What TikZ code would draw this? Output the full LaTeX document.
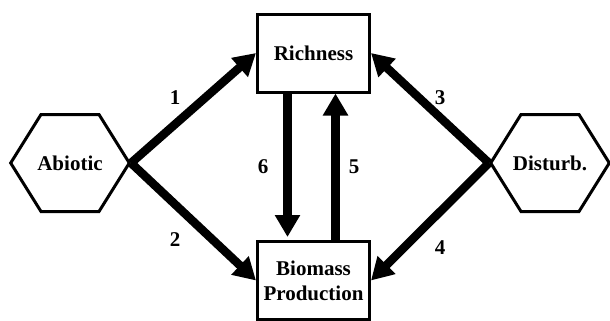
\documentclass[tikz,border=0pt]{standalone}
\usepackage{fontspec}
\setmainfont{Liberation Serif}
\usetikzlibrary{arrows.meta,shapes.symbols}
\tikzset{
	box/.style={draw, line width=1.5pt, minimum width=56pt, minimum height=39pt, inner sep=0pt, align=center, font=\fontsize{10.5}{12.5}\selectfont\bfseries},
	hexa/.style={draw, signal, signal to=east and west, signal pointer angle=116, minimum height=48.5pt, line width=1.5pt, inner sep=0pt, font=\fontsize{10.5}{12.5}\selectfont\bfseries},
	flow/.style={line width=4.25pt, -{Triangle[length=11pt,width=12pt]}},
	num/.style={inner sep=0pt, font=\fontsize{10.5}{12.5}\selectfont\bfseries}
}
\newcommand{\hexbody}[1]{\makebox[29pt]{#1}}

\begin{document}
\begin{tikzpicture}[x=0.5pt, y=-0.5pt]
		%%%%% START %%%%%
		\useasboundingbox (0, 0) rectangle (610, 321);
		
		\node[box] (rich) at (313.5, 53) {Richness};
		\node[box] (bio) at (313.5, 280.5) {Biomass\\Production};
		
		\node[hexa] (abiotic) at (70, 163) {\hexbody{Abiotic}};
		\node[hexa] (disturb) at (550, 163) {\hexbody{Disturb.}};
		
		\draw[flow] (abiotic.east) -- (rich.west);
		\draw[flow] (abiotic.east) -- (bio.west);
		\draw[flow] (disturb.west) -- (rich.east);
		\draw[flow] (disturb.west) -- (bio.east);
		
		\draw[flow] ([xshift=-13pt]rich.south) -- ([xshift=-13pt, yshift=1.5pt]bio.north);
		\draw[flow] ([xshift=11pt]bio.north) -- ([xshift=11pt]rich.south);
		
		\node[num] (n1) at (175, 98) {1};
		\node[num] (n2) at (175, 240) {2};
		\node[num] (n3) at (440, 98) {3};
		\node[num] (n4) at (440, 248) {4};
		\node[num] (n5) at (354, 167) {5};
		\node[num] (n6) at (263, 167) {6};
		
		%%%%% END %%%%%
	\end{tikzpicture}
\end{document}
